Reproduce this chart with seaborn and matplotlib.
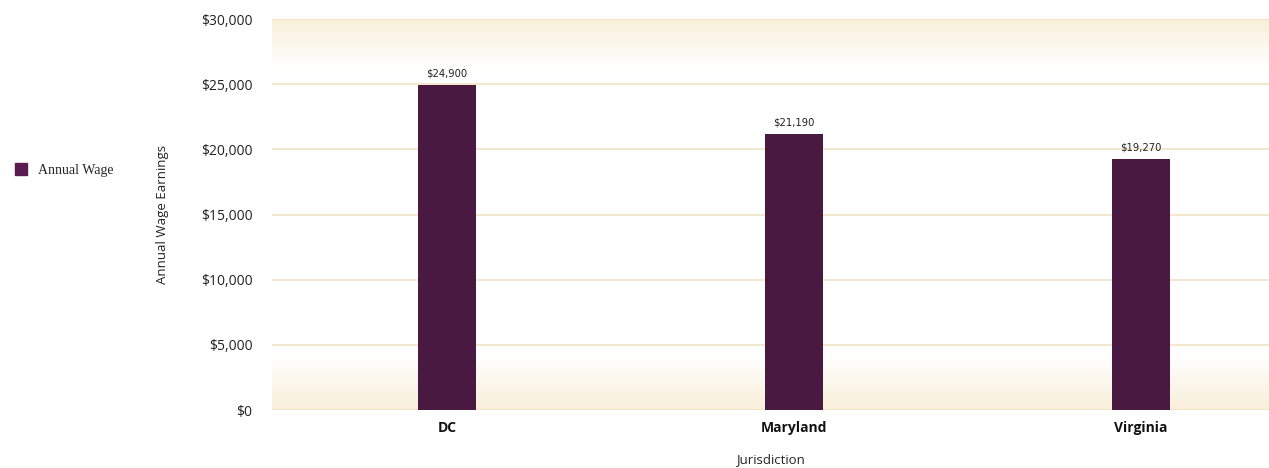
import numpy as np
import pandas as pd
import seaborn as sns
import matplotlib.pyplot as plt
from matplotlib.colors import to_rgb
from matplotlib.lines import Line2D

sns.set_theme(style='white')
plt.rcParams['font.family'] = ['Open Sans', 'DejaVu Sans']

jurisdictions = ['DC', 'Maryland', 'Virginia']
annual_wage = [24900, 21190, 19270]
yticks = [0, 5000, 10000, 15000, 20000, 25000, 30000]
bar_color = '#4a1942'

df = pd.DataFrame({'Jurisdiction': jurisdictions, 'Annual Wage': annual_wage})

fig = plt.figure(figsize=(12.69, 4.68), dpi=100)
ax = fig.add_axes([0.2143, 0.1239, 0.7857, 0.8355])

# soft tan gradient bands at top and bottom of the plot area
tan = np.array(to_rgb('#f9efd9'))
white = np.ones(3)
n = 400
t = np.linspace(0, 1, n)  # 0 = top, 1 = bottom
w = np.zeros(n)
top = t < 0.13
w[top] = 1 - t[top] / 0.13
bot = t > 0.86
w[bot] = (t[bot] - 0.86) / 0.14
grad = white[None, :] * (1 - w[:, None]) + tan[None, :] * w[:, None]
grad = np.repeat(grad[:, None, :], 2, axis=1)
ax.imshow(grad, extent=[0, 1, 0, 1], transform=ax.transAxes, aspect='auto', zorder=0)

sns.barplot(data=df, x='Jurisdiction', y='Annual Wage', color=bar_color,
            width=0.167, saturation=1, linewidth=0, ax=ax, zorder=3)

ax.set_xlim(-0.504, 2.369)
ax.set_ylim(0, 30000)
ax.set_yticks(yticks)
ax.set_yticklabels(['${:,}'.format(v) for v in yticks], fontsize=10, color='#222222')
for v in yticks:
    ax.axhline(v, color='#f0e2bf', lw=1.1, zorder=1)

for lab in ax.get_xticklabels():
    lab.set_fontweight('bold')
    lab.set_fontsize(10)
    lab.set_color('#111111')

for i, v in enumerate(annual_wage):
    ax.text(i, v + 500, '${:,}'.format(v), ha='center', va='bottom', fontsize=8,
            color='#222222', family='DejaVu Sans', fontstretch='condensed')

for s in ax.spines.values():
    s.set_visible(False)
ax.tick_params(axis='both', length=0, pad=8)
ax.tick_params(axis='y', pad=14)

ax.set_xlabel('Jurisdiction', fontsize=9.5, labelpad=13, color='#222222')
ax.set_ylabel('Annual Wage Earnings', fontsize=9.5, labelpad=23, color='#222222')

handle = Line2D([], [], marker='s', linestyle='none', markersize=8,
                markerfacecolor='#5a1c50', markeredgecolor='#5a1c50')
fig.legend([handle], ['Annual Wage'], loc='center left', bbox_to_anchor=(-0.004, 0.635),
           frameon=False, handletextpad=0.2,
           prop={'family': ['Liberation Serif', 'DejaVu Serif'], 'size': 10})

fig.savefig('out.png', dpi=100)
